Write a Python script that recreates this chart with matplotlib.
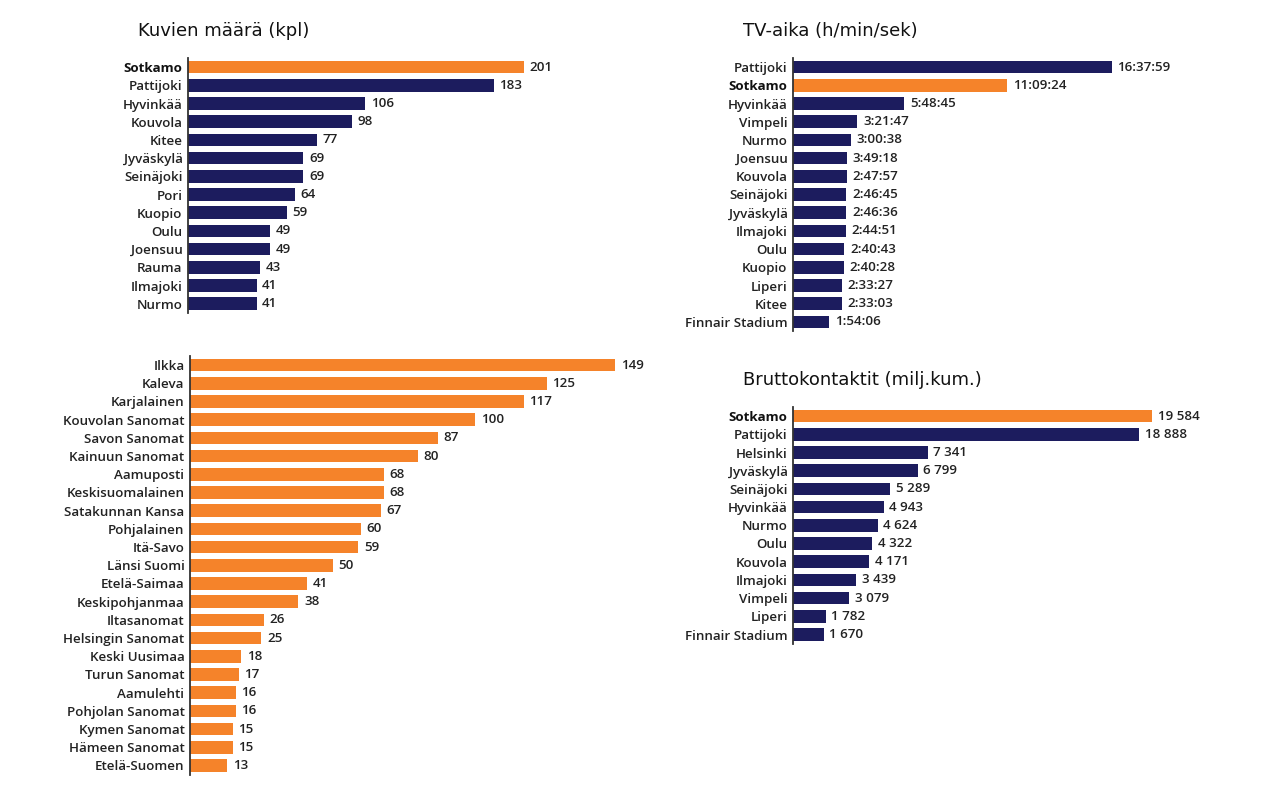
import matplotlib.pyplot as plt

# Data
kuvat_names = ['Sotkamo', 'Pattijoki', 'Hyvinkää', 'Kouvola', 'Kitee', 'Jyväskylä', 'Seinäjoki',
               'Pori', 'Kuopio', 'Oulu', 'Joensuu', 'Rauma', 'Ilmajoki', 'Nurmo']
kuvat_values = [201, 183, 106, 98, 77, 69, 69, 64, 59, 49, 49, 43, 41, 41]

lehdet_names = ['Ilkka', 'Kaleva', 'Karjalainen', 'Kouvolan Sanomat', 'Savon Sanomat', 'Kainuun Sanomat',
                'Aamuposti', 'Keskisuomalainen', 'Satakunnan Kansa', 'Pohjalainen', 'Itä-Savo',
                'Länsi Suomi', 'Etelä-Saimaa', 'Keskipohjanmaa', 'Iltasanomat', 'Helsingin Sanomat',
                'Keski Uusimaa', 'Turun Sanomat', 'Aamulehti', 'Pohjolan Sanomat', 'Kymen Sanomat',
                'Hämeen Sanomat', 'Etelä-Suomen']
lehdet_values = [149, 125, 117, 100, 87, 80, 68, 68, 67, 60, 59, 50, 41, 38, 26, 25, 18, 17, 16, 16,
                 15, 15, 13]

tv_names = ['Pattijoki', 'Sotkamo', 'Hyvinkää', 'Vimpeli', 'Nurmo', 'Joensuu', 'Kouvola', 'Seinäjoki',
            'Jyväskylä', 'Ilmajoki', 'Oulu', 'Kuopio', 'Liperi', 'Kitee', 'Finnair Stadium']
tv_labels = ['16:37:59', '11:09:24', '5:48:45', '3:21:47', '3:00:38', '3:49:18', '2:47:57', '2:46:45',
             '2:46:36', '2:44:51', '2:40:43', '2:40:28', '2:33:27', '2:33:03', '1:54:06']
# bar lengths in hours as drawn in the picture
tv_hours = [16.63, 11.16, 5.81, 3.36, 3.01, 2.82, 2.80, 2.78, 2.78, 2.75, 2.68, 2.67, 2.56, 2.55, 1.90]

brutto_names = ['Sotkamo', 'Pattijoki', 'Helsinki', 'Jyväskylä', 'Seinäjoki', 'Hyvinkää', 'Nurmo',
                'Oulu', 'Kouvola', 'Ilmajoki', 'Vimpeli', 'Liperi', 'Finnair Stadium']
brutto_values = [19584, 18888, 7341, 6799, 5289, 4943, 4624, 4322, 4171, 3439, 3079, 1782, 1670]

ORANGE = '#F5832A'
NAVY = '#1C1C5E'
W, H = 1283, 785

plt.rcParams['font.family'] = ['Open Sans', 'DejaVu Sans']
fig = plt.figure(figsize=(W / 100, H / 100), dpi=100)
fig.patch.set_facecolor('white')


def panel(left, top, n, width, px_per_unit, names, values, labels, colors, title=None):
    height = n * 18.2
    ax = fig.add_axes([left / W, 1 - (top + height) / H, width / W, height / H])
    y = list(range(n))
    ax.barh(y, values, height=0.7, color=colors)
    ax.set_ylim(n - 0.5, -0.5)
    ax.set_xlim(0, width / px_per_unit)
    ax.set_yticks(y)
    ax.set_yticklabels(names, fontsize=9.6, color='#222222', fontweight='semibold')
    for lab in ax.get_yticklabels():
        if lab.get_text() == 'Sotkamo':
            lab.set_fontweight('bold')
            lab.set_color('#111111')
    ax.tick_params(axis='y', length=0, pad=4)
    ax.set_xticks([])
    for s in ['top', 'right', 'bottom']:
        ax.spines[s].set_visible(False)
    ax.spines['left'].set_color('#333333')
    ax.spines['left'].set_linewidth(1.3)
    ax.set_facecolor('none')
    for yi, v, lab in zip(y, values, labels):
        ax.annotate(lab, (v, yi), xytext=(4, 0), textcoords='offset points',
                    va='center', ha='left', fontsize=9.6, color='#222222', fontweight='semibold')
    if title:
        fig.text((left - 50) / W, 1 - (top - 27) / H, title, fontsize=13, family='DejaVu Sans',
                 color='#111111', va='center', ha='left')
    return ax


panel(188, 58, len(kuvat_names), 400, 1.672, kuvat_names, kuvat_values,
      [str(v) for v in kuvat_values],
      [ORANGE if n == 'Sotkamo' else NAVY for n in kuvat_names], 'Kuvien määrä (kpl)')

panel(190, 356, len(lehdet_names), 450, 2.853, lehdet_names, lehdet_values,
      [str(v) for v in lehdet_values], [ORANGE] * len(lehdet_names))

panel(793, 58, len(tv_names), 400, 19.18, tv_names, tv_hours, tv_labels,
      [ORANGE if n == 'Sotkamo' else NAVY for n in tv_names], 'TV-aika (h/min/sek)')

panel(793, 407, len(brutto_names), 420, 0.01833, brutto_names, brutto_values,
      [f'{v:,}'.replace(',', ' ') for v in brutto_values],
      [ORANGE if n == 'Sotkamo' else NAVY for n in brutto_names], 'Bruttokontaktit (milj.kum.)')

fig.savefig('out.png', dpi=100)
